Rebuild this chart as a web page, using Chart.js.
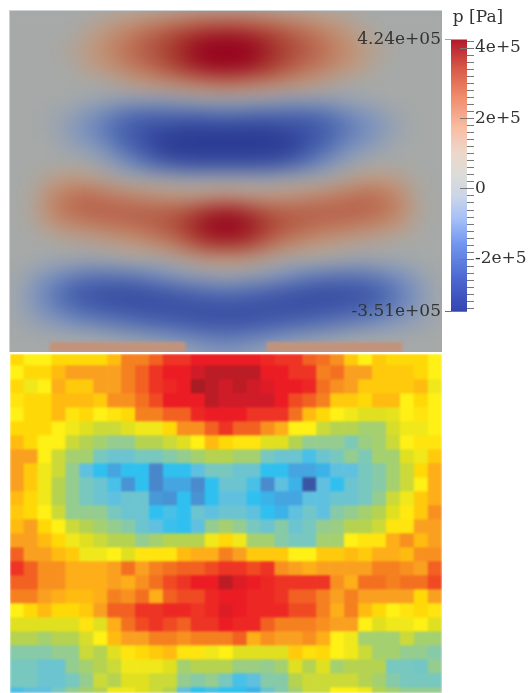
<!DOCTYPE html>
<html><head><meta charset="utf-8">
<script src="https://cdn.jsdelivr.net/npm/chart.js@4/dist/chart.umd.min.js"></script>
<style>
html,body{margin:0;padding:0;background:#fff;overflow:hidden;width:531px;height:693px}
.box{position:absolute;overflow:hidden}
canvas{position:absolute;display:block}
</style></head><body>
<div style="position:absolute;left:9px;top:10px;width:433px;height:342px;background:#cdd2d6"></div>
<div class="box" style="left:10px;top:11px;width:432px;height:341px;background:#a6a9a8">
  <canvas id="field" width="464" height="368" style="left:-16px;top:-16px;filter:blur(9px)"></canvas>
  <canvas id="strips" width="432" height="341" style="left:0;top:0;filter:blur(1.6px)"></canvas>
</div>
<div class="box" style="left:10px;top:354px;width:432px;height:339px">
  <canvas id="cells" width="432" height="339" style="left:0;top:0;filter:blur(1.1px)"></canvas>
</div>
<div class="box" style="left:340px;top:0;width:191px;height:330px">
  <canvas id="bar" width="276" height="330" style="left:0;top:0;filter:blur(0.3px)"></canvas>
</div>
<script>
// Pressure field, top panel (units of 1e4 Pa)
const fieldColumns = ["c0","c1","c2","c3","c4","c5","c6","c7","c8","c9","c10","c11","c12","c13","c14","c15","c16","c17","c18","c19","c20","c21","c22","c23","c24","c25","c26","c27","c28"];
const f00=[0,0,0,0,0,0,0,0,0,0,0,0,0,0,0,0,0,0,0,0,0,0,0,0,0,0,0,0,0];
const f01=[0,0,0,0,0,0,2,4,6,8,10,12,14,15,15,15,14,12,10,8,6,4,2,0,0,0,0,0,0];
const f02=[0,0,0,0,0,3,6,10,14,17,20,23,27,30,31,30,27,23,20,17,14,10,6,3,0,0,0,0,0];
const f03=[0,0,0,0,2,4,8,12,16,19,22,26,33,40,42,40,33,26,22,19,16,12,8,4,2,0,0,0,0];
const f04=[0,0,0,0,0,3,6,9,13,16,19,23,28,32,33,32,28,23,19,16,13,9,6,3,0,0,0,0,0];
const f05=[0,0,0,0,0,0,0,2,4,6,8,10,12,14,15,14,12,10,8,6,4,2,0,0,0,0,0,0,0];
const f06=[0,0,0,0,0,-1,-2,-3,-4,-4,-4,-3,-2,-1,-1,-1,-2,-3,-4,-4,-4,-3,-2,-1,0,0,0,0,0];
const f07=[0,0,0,-1,-3,-6,-10,-14,-18,-20,-20,-20,-20,-19,-18,-19,-20,-20,-20,-20,-18,-14,-10,-7,-4,-1,0,0,0];
const f08=[0,0,0,-1,-4,-8,-12,-18,-23,-27,-29,-30,-31,-31,-31,-31,-31,-30,-29,-27,-23,-18,-13,-9,-5,-2,0,0,0];
const f09=[0,0,0,0,-2,-4,-7,-13,-20,-26,-31,-34,-35,-33,-33,-33,-35,-34,-31,-26,-20,-13,-8,-5,-2,0,0,0,0];
const f10=[0,0,0,0,0,0,-2,-5,-10,-16,-21,-25,-27,-27,-27,-27,-27,-25,-21,-16,-10,-5,-2,0,0,0,0,0,0];
const f11=[0,0,1,4,6,6,4,2,0,0,-1,-2,-2,-2,-2,-2,-2,-2,-1,0,0,2,4,6,6,4,1,0,0];
const f12=[0,0,2,9,14,16,15,13,11,9,7,6,5,6,7,6,5,6,7,9,11,13,15,16,14,9,2,0,0];
const f13=[0,0,3,10,15,17,18,18,18,18,18,19,22,27,29,27,22,19,18,18,18,18,18,17,15,10,3,0,0];
const f14=[0,0,1,5,8,10,12,14,15,17,19,22,28,34,36,34,28,22,19,17,15,14,12,10,8,5,1,0,0];
const f15=[0,0,0,0,1,2,3,4,6,8,11,15,20,24,25,24,20,15,11,8,6,4,3,2,1,0,0,0,0];
const f16=[0,0,0,-1,-1,-2,-2,-1,0,0,1,2,4,6,6,6,4,2,1,0,0,-1,-2,-2,-1,-1,0,0,0];
const f17=[0,-1,-4,-8,-11,-14,-15,-15,-14,-12,-9,-6,-4,-3,-2,-3,-4,-6,-9,-12,-14,-15,-15,-14,-11,-8,-4,-1,0];
const f18=[0,-2,-7,-13,-19,-24,-26,-27,-27,-26,-24,-22,-19,-17,-16,-17,-19,-22,-24,-26,-27,-27,-26,-24,-19,-13,-7,-2,0];
const f19=[0,-2,-6,-11,-16,-20,-23,-25,-26,-27,-27,-27,-27,-27,-27,-27,-27,-27,-27,-27,-26,-25,-23,-20,-16,-11,-6,-2,0];
const f20=[0,-1,-3,-5,-7,-10,-12,-14,-16,-18,-20,-22,-24,-25,-25,-25,-24,-22,-20,-18,-16,-14,-12,-10,-7,-5,-3,-1,0];
const f21=[0,0,0,0,0,0,0,-2,-3,-4,-6,-8,-10,-12,-13,-12,-10,-8,-6,-4,-3,-2,0,0,0,0,0,0,0];
const f22=[0,0,0,0,0,0,0,0,0,0,0,-1,-3,-5,-6,-5,-3,-1,0,0,0,0,0,0,0,0,0,0,0];
const fieldRows=[f00,f01,f02,f03,f04,f05,f06,f07,f08,f09,f10,f11,f12,f13,f14,f15,f16,f17,f18,f19,f20,f21,f22];

// Salmon strips along the bottom edge of the top panel
const stripLabels=["s"];
const stripLeft=[[40,175]];
const stripRight=[[257,392]];

// Cell values, bottom panel (colour levels 0-18)
const cellColumns=["1","2","3","4","5","6","7","8","9","10","11","12","13","14","15","16","17","18","19","20","21","22","23","24","25","26","27","28","29","30","31"];
const r00=[10,9,9,10,10,10,10,11,13,13,14,15,15,16,16,16,16,16,15.5,15,15,14,13.5,12.5,10.5,9,10.5,10,10,10,9];
const r01=[9,10,10,11,12,12,12,12,13,14,15,16,16,17,17.5,17.5,17.5,17.5,16,16,15,15,13,13.5,12,12,10.5,10.5,10.5,10,9];
const r02=[10,8.5,9,11.5,10.5,10.5,12,12,13,14,15,15.5,16,18,17.5,17,17.5,17,16.5,16,16,15.5,13.5,12.5,12,10.5,10.5,10.5,10.5,11,8.5];
const r03=[9.5,10,10,11,11,11,10.5,12.5,12.5,13.5,14.5,16,16,16,17.5,17,17,17,17,16,14.5,14,13,10.5,10.5,10,11,11,9,10,9];
const r04=[9,10,10,11,9.5,10,9,9.5,10,13,13,14,14,15.5,16,16,16,15,15,15,13.5,11,10,9,8.5,8,8,8.2,9,9.5,9];
const r05=[10,10,10,9,8.5,8,7.5,7.5,8,8.5,8.5,10,12.5,12.5,14,15,14,14,12.5,11.5,9,9,7.5,7,7,6.5,6.5,7.8,8.5,8.5,9];
const r06=[11,10,9,9,7.5,7,6.5,6,6,7,7,7.5,8,9,11,10,9.5,9.5,8,8,7,6,6,6,5.2,6.2,6.5,7.5,9,9.5,9.5];
const r07=[12,12,9,7.5,6.5,6.5,5,4.5,4.5,5,5,5.5,6,6.5,7,7,6.5,6.5,5,4.5,4.5,3.5,4.5,5,6,5.2,6.5,6.5,8,8.5,10.5];
const r08=[12,10.5,8.5,7.5,6,4,3,2,3,3,1.2,3,3,4,5,5,4.5,4.5,3,3,2,2,2.5,4,4,5,5.5,6.5,7.5,10,11.5];
const r09=[12,10.5,8.5,7,6,5,4.5,3.5,1.5,3,1.2,2,2,1.3,3,4.5,4.5,3.5,1.3,4,2.5,0,4,3,4.5,5,5.5,6.5,7.5,9,11.5];
const r10=[11,10,8.5,7,6,5,4.5,4,4.5,4.5,1.7,1.5,3,1.5,3,4,4,3,2.5,2,2,4,4,4.5,4.5,5,6,7.5,8.5,10.5,11.5];
const r11=[10.5,10,9,7.5,6,6,6,5,4.5,4.5,3,3.5,3,4.5,4,4.5,4.5,4,3,2.5,4,4.7,4,5.5,6,6.5,7,8,9.3,10.5,12.5];
const r12=[11,12,10,9,7.5,7,6.5,6,5.5,4.5,4,3.2,3,4,6,6.5,6,5,4.5,5.5,4.5,5,6,6.2,7,7,7.5,9.5,9.5,12,12];
const r13=[12,12,11,10,8.5,8,7.5,7,7,6,6.5,7,7,7,8.5,10,8.5,6.5,6.5,5.5,5,5,6.5,6.5,9,9.5,9.5,11.5,12.5,11,12];
const r14=[14,12,12,11,10.5,8.5,8.5,9,8,9.5,9.5,9.5,11,11.5,11.5,13,12,10.5,10.5,10.5,9,9,10.5,10.5,11,10.5,11.5,11.5,11,12.5,12.5];
const r15=[15,14,12.5,12.5,11.5,11.5,11.5,12,13.5,12,13,13.5,14,14,14.5,15,15,14.5,15,12.5,12,11.5,12,12,12,12,13,13,12.5,12,14];
const r16=[14,14,12.5,12.5,11.5,11.5,11.5,12,11.5,12.5,13.5,14.5,15,16,16,17.5,16.5,16,15.5,15,15,15,15,12.5,11.5,13.5,13.5,13,13.5,13.5,14.5];
const r17=[13,13,12,11.5,11,11,11.5,13,12.5,13.5,11.5,14,14.5,14.5,15.5,16,16,15.5,15.5,15,14,14,13,12,13,12,12,12,12,10,12];
const r18=[9,10,11,10,10,10.5,12,14,14,15,15,15.5,15.5,15,15.5,16.5,16,15.5,15.5,15.5,14.5,14.5,13,11.5,13,11,10,9,9.5,10,9.5];
const r19=[8,8,8,8,8,9.5,8,11.5,13.5,14.5,15,14.5,14,15,15,16,15.5,15.5,14,13,13,13,12.5,12,12,9,8,8.5,8.5,9,8];
const r20=[7,7,6.5,7,7,7.8,9,11,12,12,13,13,12.5,13,13,13,14,11.5,12.5,12,12,12.5,11.5,9,8.5,6.5,6.5,6.5,7.5,6.5,6.5];
const r21=[5.5,5.5,5.5,6,6,7.5,7,8,9.5,10,10.5,11,9.5,9.5,8.5,9,8,8,8,8,10.5,9.7,10,9,8.5,7.5,6.5,6.5,6,6,5.5];
const r22=[5,5,4.5,4.5,6,6.5,7,7.5,8.5,8.5,8.5,8,6.5,7,7,7,6.2,6.2,6,6.5,8,7,8,6.5,7,7,7,5,5,4.8,6];
const r23=[5,5,4.5,4.5,5,6,7.5,7,8,8,7.5,7.5,6,5.5,6,5,3.5,4,5.5,5.5,7,7.5,7.5,7.5,7.5,7,6.5,5.5,5,5,5];
const r24=[3.5,4,4,5,6,6.5,7,8.5,8.5,8,7.5,7,4,3,3.5,3,3,2.5,4.5,5.5,6.5,7.5,7.5,9,9,8.5,7,6.5,6,6,6];
const cellRows=[r00,r01,r02,r03,r04,r05,r06,r07,r08,r09,r10,r11,r12,r13,r14,r15,r16,r17,r18,r19,r20,r21,r22,r23,r24];

// Colour bar
const barRange=[-351000,424000];
const barTicks=[400000,200000,0,-200000];
const barTickLabels=["4e+5","2e+5","0","-2e+5"];
const extremeValues=[424000,-351000];
const extremeLabels=["4.24e+05","-3.51e+05"];
const minorTicks=[420000,380000,360000,340000,320000,300000,280000,260000,240000,220000,180000,160000,140000,120000,100000,80000,60000,40000,20000,-20000,-40000,-60000,-80000,-100000,-120000,-140000,-160000,-180000,-220000,-240000,-260000,-280000,-300000,-320000,-340000];
const barStopValues=[424000,340000,260000,169000,100000,40000,-20000,-87000,-162000,-257000,-351000];
const barStopColors=["#b2182b","#d85a48","#f08c6c","#f8bfa5","#ecd8cc","#dcdcd8","#cdd6e6","#a4c0f8","#6f94ee","#4c68d0","#3444b0"];

// Colour maps
const fieldStops=[-32,-27,-18,-8,0,6,14,24,36];
const fieldColors=["#2a3a92","#3a4fa4","#4f6bb2","#7c93bf","#a6a9a8","#bf9a80","#c07a5c","#a83a2e","#96001e"];
const cellColors=["#3b55a5","#4a80c5","#45a5e0","#30c0f0","#60c0e0","#78c8c0","#95cc90","#b5d350","#e0e020","#fff015","#ffd808","#ffbb10","#faa020","#f58020","#f26022","#ee3424","#ec1c24","#d01c28","#a81c22"];

function hex(c){return [1,3,5].map(i=>parseInt(c.substr(i,2),16));}
function mix(a,b,t){const A=hex(a),B=hex(b);return "rgb("+A.map((v,i)=>Math.round(v+(B[i]-v)*t)).join(",")+")";}
function fieldColor(v){
  for(let i=0;i<fieldStops.length-1;i++){
    if(v<=fieldStops[i+1]){const t=Math.max(0,(v-fieldStops[i])/(fieldStops[i+1]-fieldStops[i]));return mix(fieldColors[i],fieldColors[i+1],t);}
  }
  return fieldColors[fieldColors.length-1];
}
function cellColor(v){
  const i=Math.min(Math.floor(v),cellColors.length-2);
  return mix(cellColors[i],cellColors[i+1],v-i);
}
const quiet={legend:{display:false},tooltip:{enabled:false},title:{display:false}};
function heat(id,labels,rows,min,max,color){
  return new Chart(document.getElementById(id),{
    type:"bar",
    data:{labels,datasets:rows.map((vals,r)=>({
      data:vals.map(()=>[r,r+1]),
      backgroundColor:vals.map(color),
      borderWidth:0,grouped:false,barPercentage:1,categoryPercentage:1
    }))},
    options:{responsive:false,animation:false,devicePixelRatio:1,
      layout:{padding:0},plugins:quiet,events:[],
      scales:{x:{display:false},y:{display:false,reverse:true,min,max}}}
  });
}
heat("field",fieldColumns,fieldRows,0,23,fieldColor);
heat("cells",cellColumns,cellRows,3/14,3/14+339/14,cellColor);

new Chart(document.getElementById("strips"),{
  type:"bar",
  data:{labels:stripLabels,datasets:[
    {data:stripLeft,backgroundColor:"#c2937c",borderWidth:0,grouped:false,barPercentage:1,categoryPercentage:1},
    {data:stripRight,backgroundColor:"#c2937c",borderWidth:0,grouped:false,barPercentage:1,categoryPercentage:1}
  ]},
  options:{indexAxis:"y",responsive:false,animation:false,devicePixelRatio:1,events:[],
    layout:{padding:{top:331,bottom:-4}},plugins:quiet,
    scales:{x:{display:false,min:0,max:432},y:{display:false}}}
});

const font={family:"'DejaVu Serif',serif",size:17,weight:"normal"};
const tickMarks={id:"tickMarks",afterDatasetsDraw(chart){
  const {ctx,chartArea:a,scales:{y}}=chart;
  ctx.save();ctx.strokeStyle="#777";ctx.lineWidth=1;
  const mark=(v,x0,x1)=>{const p=Math.round(y.getPixelForValue(v))+0.5;ctx.beginPath();ctx.moveTo(x0,p);ctx.lineTo(x1,p);ctx.stroke();};
  minorTicks.forEach(v=>mark(v,a.right,a.right+7));
  barTicks.forEach(v=>mark(v,a.right-7,a.right+7));
  ctx.restore();
}};
new Chart(document.getElementById("bar"),{
  type:"bar",
  data:{labels:["p"],datasets:[{
    data:[barRange],borderWidth:0,barPercentage:1,categoryPercentage:1,
    backgroundColor(c){
      const ch=c.chart;if(!ch.chartArea)return "#888";
      const y=ch.scales.y,g=ch.ctx.createLinearGradient(0,ch.chartArea.top,0,ch.chartArea.bottom);
      barStopValues.forEach((v,i)=>g.addColorStop((y.getPixelForValue(v)-ch.chartArea.top)/ch.chartArea.height,barStopColors[i]));
      return g;
    }}]},
  plugins:[tickMarks],
  options:{responsive:false,animation:false,devicePixelRatio:1,events:[],
    layout:{padding:{bottom:17}},
    plugins:{legend:{display:false},tooltip:{enabled:false},
      title:{display:true,text:"p [Pa]",color:"#333",font,padding:{top:7,bottom:12}}},
    scales:{
      x:{display:false},
      y:{position:"right",min:barRange[0],max:barRange[1],grid:{display:false,drawTicks:false},border:{display:false},
        afterBuildTicks(s){s.ticks=barTicks.map(value=>({value}));},
        ticks:{autoSkip:false,padding:8,color:"#333",font,callback(v,i){return barTickLabels[i];}},
        afterFit(s){s.width=149;}},
      y2:{position:"left",min:barRange[0],max:barRange[1],
        grid:{drawOnChartArea:false,drawTicks:true,tickLength:6,tickColor:["#ee8090","#5a68d0"]},border:{display:false},
        afterBuildTicks(s){s.ticks=extremeValues.map(value=>({value}));},
        ticks:{autoSkip:false,padding:4,color:"#333",font,callback(v,i){return extremeLabels[i];}},
        afterFit(s){s.width=111;}}
    }}
});
</script>
</body></html>
